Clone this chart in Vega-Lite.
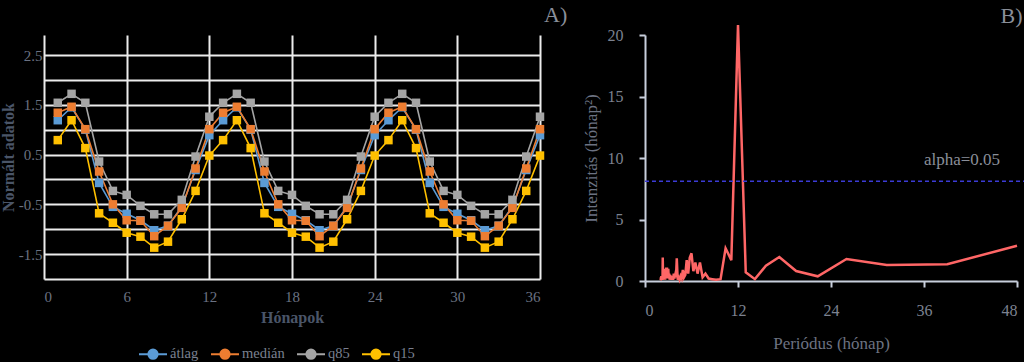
{
  "$schema": "https://vega.github.io/schema/vega-lite/v6.json",
  "background": "#000000",
  "padding": {"left": 0, "top": 4, "right": 0, "bottom": 0},
  "spacing": 14,
  "config": {
    "view": {"stroke": null},
    "font": "Liberation Serif",
    "title": {"font": "Liberation Serif", "fontSize": 22, "color": "#8a8f99", "fontWeight": "normal", "anchor": "end"}
  },
  "hconcat": [
    {
      "width": 496,
      "height": 244,
      "title": {"text": "A)", "offset": 8, "dx": 23},
      "data": {"values": [
        {"m": 1, "átlag": 1.19, "medián": 1.34, "q85": 1.54, "q15": 0.79},
        {"m": 2, "átlag": 1.45, "medián": 1.46, "q85": 1.72, "q15": 1.19},
        {"m": 3, "átlag": 1.00, "medián": 1.01, "q85": 1.54, "q15": 0.63},
        {"m": 4, "átlag": -0.07, "medián": 0.16, "q85": 0.36, "q15": -0.68},
        {"m": 5, "átlag": -0.55, "medián": -0.50, "q85": -0.23, "q15": -0.87},
        {"m": 6, "átlag": -0.69, "medián": -0.82, "q85": -0.31, "q15": -1.07},
        {"m": 7, "átlag": -0.82, "medián": -0.83, "q85": -0.53, "q15": -1.15},
        {"m": 8, "átlag": -1.02, "medián": -1.14, "q85": -0.70, "q15": -1.37},
        {"m": 9, "átlag": -0.93, "medián": -0.93, "q85": -0.70, "q15": -1.25},
        {"m": 10, "átlag": -0.55, "medián": -0.57, "q85": -0.41, "q15": -0.80},
        {"m": 11, "átlag": 0.19, "medián": 0.22, "q85": 0.46, "q15": -0.23},
        {"m": 12, "átlag": 0.89, "medián": 1.01, "q85": 1.26, "q15": 0.48},
        {"m": 13, "átlag": 1.19, "medián": 1.34, "q85": 1.54, "q15": 0.79},
        {"m": 14, "átlag": 1.45, "medián": 1.46, "q85": 1.72, "q15": 1.19},
        {"m": 15, "átlag": 1.00, "medián": 1.01, "q85": 1.54, "q15": 0.63},
        {"m": 16, "átlag": -0.07, "medián": 0.16, "q85": 0.36, "q15": -0.68},
        {"m": 17, "átlag": -0.55, "medián": -0.50, "q85": -0.23, "q15": -0.87},
        {"m": 18, "átlag": -0.69, "medián": -0.82, "q85": -0.31, "q15": -1.07},
        {"m": 19, "átlag": -0.82, "medián": -0.83, "q85": -0.53, "q15": -1.15},
        {"m": 20, "átlag": -1.02, "medián": -1.14, "q85": -0.70, "q15": -1.37},
        {"m": 21, "átlag": -0.93, "medián": -0.93, "q85": -0.70, "q15": -1.25},
        {"m": 22, "átlag": -0.55, "medián": -0.57, "q85": -0.41, "q15": -0.80},
        {"m": 23, "átlag": 0.19, "medián": 0.22, "q85": 0.46, "q15": -0.23},
        {"m": 24, "átlag": 0.89, "medián": 1.01, "q85": 1.26, "q15": 0.48},
        {"m": 25, "átlag": 1.19, "medián": 1.34, "q85": 1.54, "q15": 0.79},
        {"m": 26, "átlag": 1.45, "medián": 1.46, "q85": 1.72, "q15": 1.19},
        {"m": 27, "átlag": 1.00, "medián": 1.01, "q85": 1.54, "q15": 0.63},
        {"m": 28, "átlag": -0.07, "medián": 0.16, "q85": 0.36, "q15": -0.68},
        {"m": 29, "átlag": -0.55, "medián": -0.50, "q85": -0.23, "q15": -0.87},
        {"m": 30, "átlag": -0.69, "medián": -0.82, "q85": -0.31, "q15": -1.07},
        {"m": 31, "átlag": -0.82, "medián": -0.83, "q85": -0.53, "q15": -1.15},
        {"m": 32, "átlag": -1.02, "medián": -1.14, "q85": -0.70, "q15": -1.37},
        {"m": 33, "átlag": -0.93, "medián": -0.93, "q85": -0.70, "q15": -1.25},
        {"m": 34, "átlag": -0.55, "medián": -0.57, "q85": -0.41, "q15": -0.80},
        {"m": 35, "átlag": 0.19, "medián": 0.22, "q85": 0.46, "q15": -0.23},
        {"m": 36, "átlag": 0.89, "medián": 1.01, "q85": 1.26, "q15": 0.48}
      ]},
      "transform": [{"fold": ["átlag", "medián", "q85", "q15"], "as": ["s", "v"]}],
      "mark": {"type": "line", "strokeWidth": 1.6, "point": {"shape": "square", "size": 72, "filled": true, "opacity": 1}},
      "encoding": {
        "x": {
          "field": "m", "type": "quantitative",
          "scale": {"domain": [0, 36], "nice": false},
          "axis": {
            "values": [0, 6, 12, 18, 24, 30, 36],
            "grid": true, "gridColor": "#ececec", "gridWidth": 2, "gridOpacity": 1,
            "domain": false, "ticks": false,
            "labelPadding": 10, "labelFontSize": 15, "labelColor": "#6b7282", "labelFont": "Liberation Serif",
            "title": "Hónapok", "titleFont": "Liberation Serif", "titleFontSize": 16, "titleFontWeight": "bold",
            "titleColor": "#4a5568", "titlePadding": 5
          }
        },
        "y": {
          "field": "v", "type": "quantitative",
          "scale": {"domain": [-2, 2.902], "nice": false},
          "axis": {
            "values": [-2, -1.5, -1, -0.5, 0, 0.5, 1, 1.5, 2, 2.5],
            "labelExpr": "(datum.value * 2) % 2 != 0 ? '' + datum.value : ''",
            "grid": true, "gridColor": "#ececec", "gridWidth": 2, "gridOpacity": 1,
            "domain": false, "ticks": false,
            "labelPadding": 2, "labelFontSize": 15, "labelColor": "#6b7282", "labelFont": "Liberation Serif",
            "title": "Normált adatok", "titleFont": "Liberation Serif", "titleFontSize": 16, "titleFontWeight": "bold",
            "titleColor": "#4a5568", "titlePadding": 2
          }
        },
        "color": {
          "field": "s", "type": "nominal",
          "scale": {"domain": ["átlag", "medián", "q85", "q15"], "range": ["#5B9BD5", "#ED7D31", "#A5A5A5", "#FFC000"]},
          "legend": {
            "title": null, "orient": "none", "direction": "horizontal",
            "legendX": 94, "legendY": 304,
            "symbolType": "M-1,0L1,0M-0.33,0A0.33,0.33,0,1,1,0.33,0A0.33,0.33,0,1,1,-0.33,0Z",
            "symbolSize": 784, "symbolStrokeWidth": 2,
            "labelFont": "Liberation Serif", "labelFontSize": 14.5, "labelColor": "#7a8090",
            "labelOffset": 2, "columnPadding": 8
          }
        }
      }
    },
    {
      "width": 372,
      "height": 246,
      "title": {"text": "B)", "offset": -8, "dx": -3},
      "layer": [
        {
          "data": {"values": [
            {"p": 2.0, "i": 0.05}, {"p": 2.03, "i": 0.1}, {"p": 2.05, "i": 0.3}, {"p": 2.08, "i": 0.1},
            {"p": 2.11, "i": 0.4}, {"p": 2.14, "i": 0.15}, {"p": 2.17, "i": 0.2}, {"p": 2.2, "i": 0.1},
            {"p": 2.23, "i": 0.3}, {"p": 2.26, "i": 0.2}, {"p": 2.29, "i": 1.9}, {"p": 2.33, "i": 0.1},
            {"p": 2.36, "i": 0.5}, {"p": 2.4, "i": 0.3}, {"p": 2.44, "i": 0.1}, {"p": 2.48, "i": 0.4},
            {"p": 2.52, "i": 0.2}, {"p": 2.56, "i": 1.0}, {"p": 2.6, "i": 0.1}, {"p": 2.64, "i": 0.6},
            {"p": 2.69, "i": 0.2}, {"p": 2.74, "i": 1.1}, {"p": 2.79, "i": 0.3}, {"p": 2.84, "i": 1.1},
            {"p": 2.89, "i": 0.2}, {"p": 2.94, "i": 0.8}, {"p": 3.0, "i": 1.0}, {"p": 3.06, "i": 0.3},
            {"p": 3.12, "i": 0.6}, {"p": 3.18, "i": 0.1}, {"p": 3.25, "i": 0.5}, {"p": 3.32, "i": 0.2},
            {"p": 3.39, "i": 0.4}, {"p": 3.47, "i": 0.1}, {"p": 3.55, "i": 0.3}, {"p": 3.63, "i": 0.1},
            {"p": 3.71, "i": 0.6}, {"p": 3.8, "i": 0.2}, {"p": 3.9, "i": 0.5}, {"p": 4.0, "i": 0.3},
            {"p": 4.1, "i": 1.85}, {"p": 4.22, "i": 0.1}, {"p": 4.33, "i": 0.3}, {"p": 4.46, "i": 0.1},
            {"p": 4.59, "i": 0.4}, {"p": 4.73, "i": 0.2}, {"p": 4.88, "i": 0.9}, {"p": 5.03, "i": 0.3},
            {"p": 5.2, "i": 0.5}, {"p": 5.38, "i": 1.7}, {"p": 5.57, "i": 0.6}, {"p": 5.78, "i": 1.9},
            {"p": 6.0, "i": 2.25}, {"p": 6.24, "i": 0.8}, {"p": 6.5, "i": 1.5}, {"p": 6.78, "i": 0.6},
            {"p": 7.09, "i": 1.5}, {"p": 7.43, "i": 0.3}, {"p": 7.8, "i": 0.6}, {"p": 8.21, "i": 0.2},
            {"p": 8.67, "i": 0.15}, {"p": 9.18, "i": 0.1}, {"p": 9.75, "i": 0.15}, {"p": 10.4, "i": 2.66},
            {"p": 11.14, "i": 1.7}, {"p": 12.0, "i": 20.8}, {"p": 13.0, "i": 0.71}, {"p": 14.18, "i": 0.15},
            {"p": 15.6, "i": 1.24}, {"p": 17.33, "i": 1.95}, {"p": 19.5, "i": 0.81}, {"p": 22.29, "i": 0.38},
            {"p": 26.0, "i": 1.79}, {"p": 31.2, "i": 1.3}, {"p": 39.0, "i": 1.36}, {"p": 48.0, "i": 2.87}
          ]},
          "mark": {"type": "line", "color": "#ff6666", "strokeWidth": 2.5, "clip": false},
          "encoding": {
            "x": {
              "field": "p", "type": "quantitative",
              "scale": {"domain": [0, 48], "nice": false},
              "axis": {
                "values": [0, 12, 24, 36, 48], "grid": false,
                "domainColor": "#c8cfdc", "domainWidth": 2, "tickColor": "#c8cfdc", "tickWidth": 2, "tickSize": 6,
                "labelPadding": 15, "labelFontSize": 16, "labelColor": "#7c8290", "labelFont": "Liberation Serif",
                "title": "Periódus (hónap)", "titleFont": "Liberation Serif", "titleFontSize": 17, "titleFontWeight": "normal",
                "titleColor": "#6c7282", "titlePadding": 17
              }
            },
            "y": {
              "field": "i", "type": "quantitative",
              "scale": {"domain": [0, 20], "nice": false},
              "axis": {
                "values": [0, 5, 10, 15, 20], "grid": false,
                "domainColor": "#c8cfdc", "domainWidth": 2, "tickColor": "#c8cfdc", "tickWidth": 2, "tickSize": 6,
                "labelPadding": 16, "labelFontSize": 16, "labelColor": "#7c8290", "labelFont": "Liberation Serif",
                "title": "Intenzitás (hónap²)", "titleFont": "Liberation Serif", "titleFontSize": 17, "titleFontWeight": "normal",
                "titleColor": "#6c7282", "titlePadding": 7
              }
            }
          }
        },
        {
          "data": {"values": [{"p": 0, "p2": 49, "i": 8.1}]},
          "mark": {"type": "rule", "color": "#3b3bd6", "strokeDash": [4, 3], "strokeWidth": 1.5, "clip": false},
          "encoding": {
            "x": {"field": "p", "type": "quantitative", "title": "Periódus (hónap)"},
            "x2": {"field": "p2"},
            "y": {"field": "i", "type": "quantitative", "title": "Intenzitás (hónap²)"}
          }
        },
        {
          "data": {"values": [{"p": 40.9, "i": 9.85, "t": "alpha=0.05"}]},
          "mark": {"type": "text", "font": "Liberation Serif", "fontSize": 17, "color": "#8a8f99"},
          "encoding": {
            "x": {"field": "p", "type": "quantitative", "title": "Periódus (hónap)"},
            "y": {"field": "i", "type": "quantitative", "title": "Intenzitás (hónap²)"},
            "text": {"field": "t"}
          }
        }
      ]
    }
  ]
}
